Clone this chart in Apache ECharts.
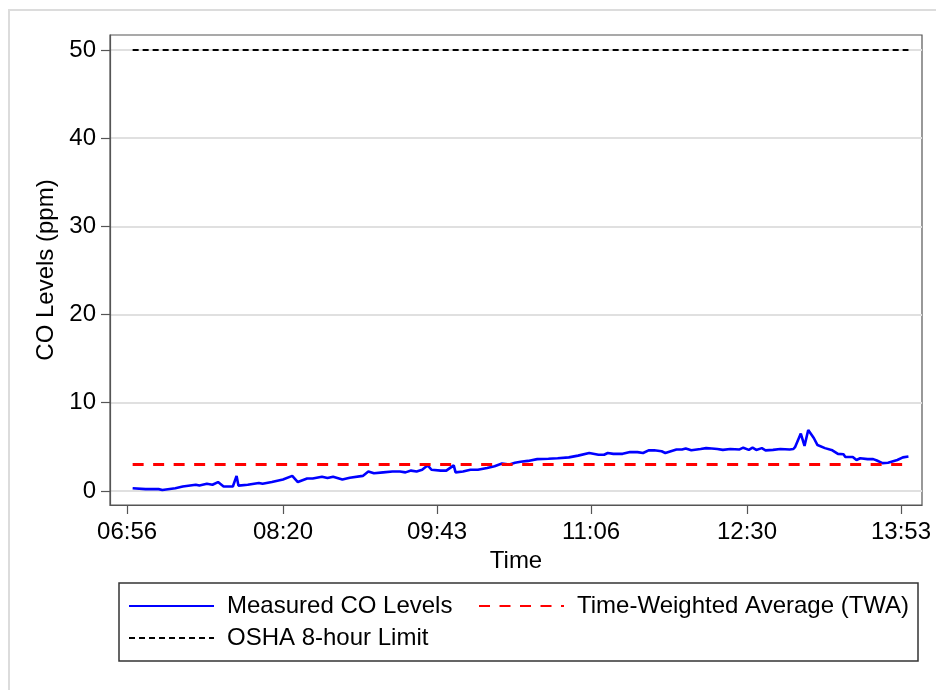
<!DOCTYPE html>
<html>
<head>
<meta charset="utf-8">
<script src="https://cdn.jsdelivr.net/npm/echarts@6/dist/echarts.min.js"></script>
<style>html,body{margin:0;padding:0;background:#fff}#c{width:936px;height:690px}</style>
</head>
<body>
<div id="c"></div>
<script>
// ---- data ----
const times = ['06:59','07:06','07:13','07:15','07:22','07:26','07:33','07:35','07:39','07:42','07:45','07:48','07:53','07:55','07:56','08:01','08:07','08:09','08:14','08:20','08:25','08:28','08:33','08:36','08:41','08:44','08:47','08:52','08:56','09:03','09:06','09:09','09:14','09:19','09:23','09:26','09:29','09:32','09:35','09:38','09:40','09:45','09:48','09:52','09:53','09:57','10:01','10:05','10:10','10:14','10:18','10:22','10:25','10:28','10:32','10:37','10:43','10:48','10:54','10:59','11:05','11:10','11:13','11:15','11:18','11:23','11:27','11:31','11:34','11:37','11:40','11:44','11:46','11:49','11:52','11:55','11:57','12:00','12:05','12:08','12:11','12:14','12:17','12:21','12:26','12:28','12:31','12:33','12:35','12:38','12:40','12:44','12:48','12:53','12:55','12:56','12:59','13:01','13:03','13:06','13:08','13:12','13:16','13:19','13:22','13:23','13:27','13:29','13:31','13:35','13:38','13:40','13:43','13:46','13:47','13:51','13:54','13:57'];
const coLevels = [0.3,0.2,0.2,0.1,0.3,0.5,0.7,0.6,0.8,0.7,1.0,0.5,0.5,1.7,0.6,0.7,0.9,0.8,1.0,1.3,1.7,1.0,1.4,1.4,1.6,1.45,1.6,1.3,1.5,1.7,2.2,2.0,2.1,2.2,2.2,2.1,2.3,2.2,2.4,2.9,2.4,2.3,2.3,2.9,2.1,2.2,2.4,2.4,2.6,2.8,3.1,3.0,3.2,3.3,3.4,3.6,3.65,3.7,3.8,4.0,4.3,4.1,4.1,4.3,4.2,4.2,4.4,4.4,4.3,4.6,4.6,4.5,4.3,4.5,4.7,4.7,4.8,4.6,4.75,4.85,4.8,4.75,4.65,4.75,4.7,4.9,4.65,4.9,4.65,4.85,4.6,4.65,4.75,4.7,4.75,5.0,6.5,5.1,6.9,6.0,5.2,4.85,4.6,4.2,4.15,3.85,3.85,3.5,3.7,3.6,3.6,3.45,3.15,3.2,3.35,3.5,3.8,3.9];
const twaValue = 3.0;
const oshaLimit = 50;
const xTickLabels = ['06:56','08:20','09:43','11:06','12:30','13:53'];
const yTickValues = [0,10,20,30,40,50];
const seriesNames = ['Measured CO Levels','Time-Weighted Average (TWA)','OSHA 8-hour Limit'];

// ---- helpers ----
const toMin = s => { const [h,m] = s.split(':').map(Number); return h*60+m; };
const fmt = v => { const h = Math.floor(v/60), m = Math.round(v - h*60); return String(h).padStart(2,'0')+':'+String(m).padStart(2,'0'); };
const xTickMins = xTickLabels.map(toMin);
const coData = times.map((t,i)=>[toMin(t), coLevels[i]]);
const tStart = toMin(times[0]), tEnd = toMin(times[times.length-1]);

const FONT = 'Liberation Sans, Arial, sans-serif';
const FS = 24;
const chart = echarts.init(document.getElementById('c'), null, {renderer:'canvas'});

const legendBase = {
  orient:'horizontal', padding:0, itemWidth:85, itemHeight:14,
  itemStyle:{opacity:0, borderWidth:0},
  textStyle:{fontFamily:FONT,fontSize:FS,color:'#000',padding:[0,0,0,8]},
  selectedMode:false
};

chart.setOption({
  animation:false,
  backgroundColor:'#fff',
  grid:{left:110, top:35, right:14, bottom:185, show:true, borderColor:'#555', borderWidth:1.2, backgroundColor:'transparent'},
  xAxis:{
    type:'value', min:406.8, max:844.3,
    name:'Time', nameLocation:'middle', nameGap:38,
    nameTextStyle:{fontFamily:FONT,fontSize:FS,color:'#000'},
    axisLine:{show:true,onZero:false,lineStyle:{color:'#555',width:1.2}},
    axisTick:{show:true,length:9,customValues:xTickMins,lineStyle:{color:'#555',width:1.2}},
    axisLabel:{customValues:xTickMins,margin:15,fontFamily:FONT,fontSize:FS,color:'#000',
      formatter:v=>{const i=xTickMins.indexOf(v);return i>=0?xTickLabels[i]:fmt(v);}},
    splitLine:{show:false}
  },
  yAxis:{
    type:'value', min:-1.6, max:51.7,
    name:'CO Levels (ppm)', nameLocation:'middle', nameGap:49,
    nameTextStyle:{fontFamily:FONT,fontSize:FS,color:'#000'},
    axisLine:{show:true,onZero:false,lineStyle:{color:'#555',width:1.2}},
    axisTick:{show:true,length:9,customValues:yTickValues,lineStyle:{color:'#555',width:1.2}},
    axisLabel:{customValues:yTickValues,margin:14,fontFamily:FONT,fontSize:FS,color:'#000'},
    splitLine:{show:true,lineStyle:{color:'#e0e0e0',width:2}}
  },
  legend:[
    Object.assign({}, legendBase, {data:[seriesNames[0]], left:128, top:594}),
    Object.assign({}, legendBase, {data:[seriesNames[1]], left:478, top:594}),
    Object.assign({}, legendBase, {data:[seriesNames[2]], left:128, top:626})
  ],
  graphic:[
    {type:'rect', shape:{x:9,y:10,width:1000,height:1000}, style:{fill:'none',stroke:'#dcdcdc',lineWidth:2}, z:-1, silent:true},
    {type:'rect', shape:{x:119,y:583,width:799,height:78}, style:{fill:'none',stroke:'#333',lineWidth:1.5}, silent:true}
  ],
  series:[
    {name:seriesNames[0], type:'line', data:coData, symbol:'none', showSymbol:false,
      lineStyle:{color:'#0000ff',width:2.6}, itemStyle:{color:'#0000ff'}, z:3},
    {name:seriesNames[1], type:'line', data:[[tStart,twaValue],[tEnd,twaValue]], symbol:'none', showSymbol:false,
      lineStyle:{color:'#ff0000',width:3,type:[11,9.5]}, itemStyle:{color:'#ff0000'}, z:4},
    {name:seriesNames[2], type:'line', data:[[tStart,oshaLimit],[tEnd,oshaLimit]], symbol:'none', showSymbol:false,
      lineStyle:{color:'#000',width:2,type:[6,4]}, itemStyle:{color:'#000'}, z:4}
  ]
});
</script>
</body>
</html>
